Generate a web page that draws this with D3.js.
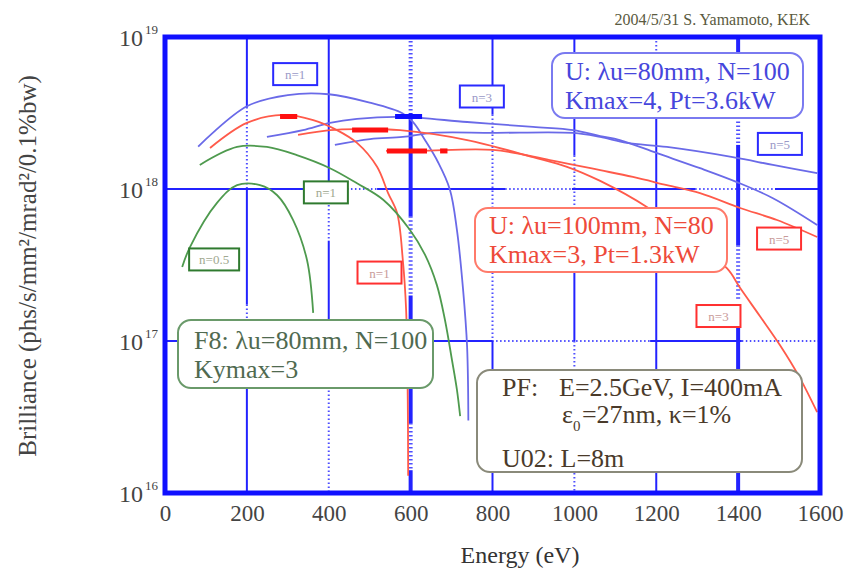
<!DOCTYPE html>
<html>
<head>
<meta charset="utf-8">
<script src="https://cdn.jsdelivr.net/npm/d3@7"></script>
<style>
  body { margin: 0; background: #fff; }
  svg { display: block; }
</style>
</head>
<body>
<svg id="chart" width="850" height="573"></svg>
<script>
// ---- axis ticks ----
const energyTicks = [0, 200, 400, 600, 800, 1000, 1200, 1400, 1600];
const brillianceTicks = [1e16, 1e17, 1e18, 1e19];

// ---- U: λu=80mm, N=100 (blue) ----
const u80n1Energy = [81, 200, 300, 400, 500, 580, 606, 635, 667, 696, 713, 728, 738, 741];
const u80n1Bril   = [1.9e18, 3.5e18, 4.15e18, 4.2e18, 3.7e18, 3.15e18, 2.75e18, 2.1e18, 1.5e18, 9.9e17, 5.4e17, 2.2e17, 9.1e16, 3.0e16];
const u80n3Energy = [249, 337, 403, 469, 574, 738, 899, 997, 1063, 1111, 1202, 1307, 1397, 1485, 1593];
const u80n3Bril   = [2.2e18, 2.44e18, 2.72e18, 2.89e18, 2.98e18, 2.76e18, 2.56e18, 2.44e18, 2.23e18, 2.1e18, 1.72e18, 1.37e18, 1.11e18, 8.7e17, 5.8e17];
const u80n5Energy = [415, 501, 581, 655, 801, 997, 1063, 1128, 1226, 1387, 1485, 1593];
const u80n5Bril   = [1.95e18, 2.13e18, 2.2e18, 2.34e18, 2.34e18, 2.34e18, 2.2e18, 2.01e18, 1.89e18, 1.62e18, 1.44e18, 1.27e18];

// ---- U: λu=100mm, N=80 (red) ----
const u100n1Energy = [110, 200, 288, 362, 420, 469, 518, 545, 567, 581, 589, 593, 594];
const u100n1Bril   = [1.86e18, 2.72e18, 3.07e18, 2.84e18, 2.44e18, 2.01e18, 1.4e18, 9.4e17, 6.95e17, 3.4e17, 1.6e17, 4.1e16, 1.3e16];
const u100n3Energy = [325, 403, 469, 574, 738, 899, 982, 1063, 1177, 1282, 1373, 1405, 1453, 1502, 1551, 1593];
const u100n3Bril   = [2.27e18, 2.44e18, 2.48e18, 2.44e18, 2.1e18, 1.62e18, 1.4e18, 1.13e18, 7.6e17, 4.6e17, 3.0e17, 2.23e17, 1.46e17, 9.4e16, 5.7e16, 3.4e16];
const u100n5Energy = [540, 623, 801, 940, 1063, 1143, 1226, 1307, 1405, 1495, 1593];
const u100n5Bril   = [1.78e18, 1.78e18, 1.81e18, 1.55e18, 1.33e18, 1.2e18, 1.06e18, 9.4e17, 7.5e17, 6.25e17, 4.83e17];

// ---- F8: λu=80mm, N=100 (green) ----
const f8n1Energy  = [85, 176, 249, 322, 403, 469, 533, 598, 635, 664, 684, 701, 713, 721];
const f8n1Bril    = [1.44e18, 1.89e18, 1.89e18, 1.67e18, 1.37e18, 1.09e18, 8.5e17, 5.4e17, 3.7e17, 2.34e17, 1.37e17, 7.5e16, 4.8e16, 3.2e16];
const f8n05Energy = [42, 61, 127, 176, 232, 274, 313, 347, 362];
const f8n05Bril   = [3.07e17, 4.15e17, 8.1e17, 1.06e18, 1.06e18, 9.1e17, 6.25e17, 3.4e17, 1.53e17];

// ---- thick range bars ----
const redBarFrom  = [281, 457, 542, 672];
const redBarTo    = [323, 545, 640, 690];
const redBarLevel = [3.0e18, 2.44e18, 1.78e18, 1.78e18];
const blueBarFrom = [562];
const blueBarTo   = [628];
const blueBarLevel = [3.0e18];

// ---- harmonic tags: text, energy, brilliance, family ----
const tagText   = ["n=1", "n=3", "n=5", "n=1", "n=0.5", "n=1", "n=5", "n=3"];
const tagEnergy = [318, 774, 1502, 393, 120, 524, 1500, 1352];
const tagBril   = [5.7e18, 4.06e18, 1.98e18, 9.5e17, 3.44e17, 2.82e17, 4.72e17, 1.46e17];
const tagFamily = ["u80", "u80", "u80", "f8", "f8", "u100", "u100", "u100"];

// ---------------------------------------------------------------
const svg = d3.select("#chart");
const x = d3.scaleLinear().domain([0, 1600]).range([165, 820]);
const y = d3.scaleLog().domain([1e16, 1e19]).range([493, 37]);
const ye = v => y(Math.pow(10, v)); // position from a decade exponent
const serif = "Liberation Serif";

// plain text helper
function label(parent, px, py, str, size, fill, anchor) {
  return parent.append("text").attr("x", px).attr("y", py)
    .style("font-family", serif).attr("font-size", size).attr("fill", fill)
    .attr("text-anchor", anchor || "start").text(str);
}

const gridBlue = "#2323ff";
const colors = {
  u80:  { line: "#6a6ae8", box: "#2a2aff", tagText: "#9a9ac8" },
  u100: { line: "#ff5a4a", box: "#ff3030", tagText: "#c89a9a" },
  f8:   { line: "#4e9a4e", box: "#2f7a2f", tagText: "#a0a890" }
};

// ---- grid lines (segments alternate between solid and dotted) ----
const vGrid = [
  { e: 200,  w: 2, solid: [[19, 18.54], [18.0, 17.24], [16.7, 16]], dotted: [[18.54, 18.0], [17.24, 16.7]] },
  { e: 400,  w: 2, solid: [[19, 18.0], [17.66, 17.14]], dotted: [[18.0, 17.66], [16.7, 16]] },
  { e: 600,  w: 4, solid: [[18.5, 17.82], [17.30, 16.46], [16.15, 16]], dotted: [[19, 18.5], [17.82, 17.30], [16.46, 16.15]] },
  { e: 800,  w: 2, solid: [[19, 18.49], [17.0, 16]], dotted: [[18.49, 17.875], [17.45, 17.0]] },
  { e: 1000, w: 2, solid: [[19, 18.22], [17.45, 17.0]], dotted: [[18.22, 17.875], [17.0, 16]] },
  { e: 1200, w: 2, solid: [[18.47, 16]], dotted: [[19, 18.9]] },
  { e: 1400, w: 4, solid: [[19, 18.9], [18.29, 17.63], [17.125, 16]], dotted: [[18.47, 18.29], [17.63, 17.27]] }
];
const hGrid = [
  { b: 18, solid: [[0, 337], [518, 831], [994, 1295], [1490, 1600]], dotted: [[337, 518], [831, 994], [1295, 1490]] },
  { b: 17, solid: [[0, 40], [652, 799], [1185, 1409]], dotted: [[799, 1185], [1409, 1600]] }
];

const grid = svg.append("g").attr("class", "grid");
vGrid.forEach(g => {
  g.solid.forEach(s => grid.append("line")
    .attr("x1", x(g.e)).attr("x2", x(g.e)).attr("y1", ye(s[0])).attr("y2", ye(s[1]))
    .attr("stroke", gridBlue).attr("stroke-width", g.w));
  g.dotted.forEach(s => grid.append("line")
    .attr("x1", x(g.e)).attr("x2", x(g.e)).attr("y1", ye(s[0])).attr("y2", ye(s[1]))
    .attr("stroke", gridBlue).attr("stroke-width", g.w).attr("stroke-dasharray", "1.5,2.5").attr("opacity", 0.8));
});
hGrid.forEach(g => {
  g.solid.forEach(s => grid.append("line")
    .attr("x1", x(s[0])).attr("x2", x(s[1])).attr("y1", ye(g.b)).attr("y2", ye(g.b))
    .attr("stroke", gridBlue).attr("stroke-width", 2));
  g.dotted.forEach(s => grid.append("line")
    .attr("x1", x(s[0])).attr("x2", x(s[1])).attr("y1", ye(g.b)).attr("y2", ye(g.b))
    .attr("stroke", gridBlue).attr("stroke-width", 2).attr("stroke-dasharray", "1.5,2.5").attr("opacity", 0.8));
});

// ---- brilliance curves ----
const line = d3.line().x(d => x(d[0])).y(d => y(d[1])).curve(d3.curveCatmullRom.alpha(0.5));
const series = [
  [u80n1Energy, u80n1Bril, "u80"], [u80n3Energy, u80n3Bril, "u80"], [u80n5Energy, u80n5Bril, "u80"],
  [u100n1Energy, u100n1Bril, "u100"], [u100n3Energy, u100n3Bril, "u100"], [u100n5Energy, u100n5Bril, "u100"],
  [f8n1Energy, f8n1Bril, "f8"], [f8n05Energy, f8n05Bril, "f8"]
];
svg.append("g").selectAll("path").data(series).join("path")
  .attr("d", s => line(d3.zip(s[0], s[1])))
  .attr("fill", "none")
  .attr("stroke", s => colors[s[2]].line)
  .attr("stroke-width", 1.8);

// ---- thick range bars ----
svg.append("g").selectAll("line").data(d3.range(redBarFrom.length)).join("line")
  .attr("x1", i => x(redBarFrom[i])).attr("x2", i => x(redBarTo[i]))
  .attr("y1", i => y(redBarLevel[i])).attr("y2", i => y(redBarLevel[i]))
  .attr("stroke", "#ff1010").attr("stroke-width", 5);
svg.append("g").selectAll("line").data(d3.range(blueBarFrom.length)).join("line")
  .attr("x1", i => x(blueBarFrom[i])).attr("x2", i => x(blueBarTo[i]))
  .attr("y1", i => y(blueBarLevel[i])).attr("y2", i => y(blueBarLevel[i]))
  .attr("stroke", "#1010ff").attr("stroke-width", 5);

// ---- harmonic tags ----
const tags = svg.append("g").selectAll("g").data(d3.range(tagText.length)).join("g")
  .attr("transform", i => `translate(${x(tagEnergy[i])},${y(tagBril[i])})`);
tags.append("rect")
  .attr("x", i => tagText[i].length > 3 ? -25 : -22).attr("y", -11)
  .attr("width", i => tagText[i].length > 3 ? 50 : 44).attr("height", 22)
  .attr("fill", "#fff").attr("stroke", i => colors[tagFamily[i]].box).attr("stroke-width", 2);
tags.append("text")
  .attr("text-anchor", "middle").attr("y", 5)
  .style("font-family", serif)
  .attr("font-size", 13).attr("fill", i => colors[tagFamily[i]].tagText)
  .text(i => tagText[i]);

// ---- parameter boxes ----
function paramBox(bx, by, bw, bh, stroke) {
  const g = svg.append("g");
  g.append("rect").attr("x", bx).attr("y", by).attr("width", bw).attr("height", bh)
    .attr("rx", 13).attr("ry", 13).attr("fill", "#fff").attr("stroke", stroke).attr("stroke-width", 2);
  return g;
}
const boxSize = 26;
const bU80 = paramBox(552, 53, 251, 65, "#7a7af0");
label(bU80, 565, 80, "U: λu=80mm, N=100", boxSize, "#4646dc");
label(bU80, 565, 109, "Kmax=4, Pt=3.6kW", boxSize, "#4646dc");

const bU100 = paramBox(475, 208, 252, 64, "#ff7a6a");
label(bU100, 489, 234, "U: λu=100mm, N=80", boxSize, "#ee4a3a");
label(bU100, 489, 263, "Kmax=3, Pt=1.3kW", boxSize, "#ee4a3a");

const bF8 = paramBox(178, 320, 255, 68, "#6a9a6a");
label(bF8, 194, 349, "F8: λu=80mm, N=100", boxSize, "#506a50");
label(bF8, 194, 378, "Kymax=3", boxSize, "#506a50");

const bPF = paramBox(477, 370, 325, 102, "#8a8a7a");
const pfInk = "#4a3a2a";
label(bPF, 502, 396, "PF:", boxSize, pfInk);
label(bPF, 559, 396, "E=2.5GeV, I=400mA", boxSize, pfInk);
const eps = label(bPF, 562, 423, "ε", boxSize, pfInk);
const epsW = eps.node().getComputedTextLength();
label(bPF, 562 + epsW, 431, "0", 15, pfInk);
label(bPF, 562 + epsW + 9, 423, "=27nm, κ=1%", boxSize, pfInk);
label(bPF, 502, 467, "U02: L=8m", boxSize, pfInk);

// ---- frame ----
svg.append("rect")
  .attr("x", x(0)).attr("y", y(1e19))
  .attr("width", x(1600) - x(0)).attr("height", y(1e16) - y(1e19))
  .attr("fill", "none").attr("stroke", "#1010ff").attr("stroke-width", 5);

// ---- axes ----
const xAxis = svg.append("g").attr("transform", `translate(0,${y(1e16)})`)
  .call(d3.axisBottom(x).tickValues(energyTicks).tickSize(0).tickPadding(12).tickFormat(d3.format("d")));
xAxis.select(".domain").remove();
xAxis.selectAll("text").style("font-family", serif).attr("font-size", 23).attr("fill", "#444");

const yAxis = svg.append("g").attr("transform", `translate(${x(0)},0)`)
  .call(d3.axisLeft(y).tickValues(brillianceTicks).tickSize(0).tickFormat(() => ""));
yAxis.select(".domain").remove();
yAxis.selectAll(".tick").each(function (d) {
  const tk = d3.select(this);
  label(tk, -46, 8, "10", 24, "#444");
  label(tk, -20, -4, String(Math.round(Math.log10(d))), 13, "#444");
});

// ---- titles ----
label(svg, 520, 563, "Energy (eV)", 24, "#333", "middle");
label(svg, 0, 0, "Brilliance (phs/s/mm²/mrad²/0.1%bw)", 25, "#444", "middle")
  .attr("transform", "translate(36,266) rotate(-90)");
label(svg, 810, 25, "2004/5/31 S. Yamamoto, KEK", 16, "#5a5a40", "end");
</script>
</body>
</html>
